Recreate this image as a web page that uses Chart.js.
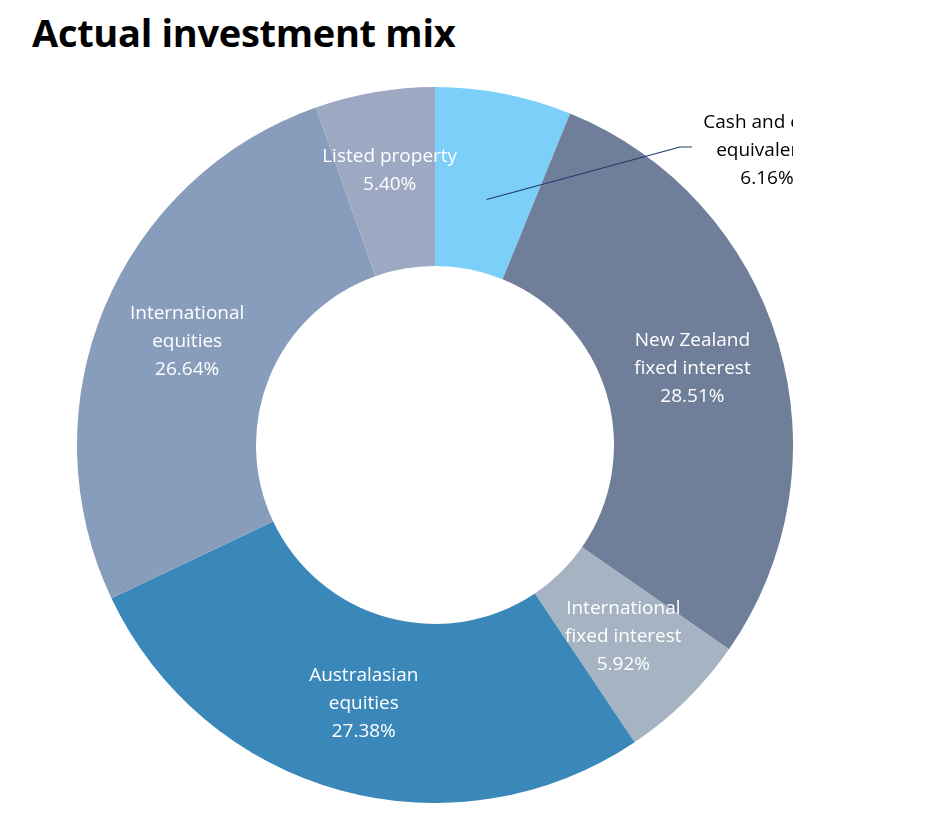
<!DOCTYPE html>
<html>
<head>
<meta charset="utf-8">
<script src="https://cdn.jsdelivr.net/npm/chart.js@4"></script>
<style>
  body { margin:0; background:#fff; width:937px; height:828px; position:relative; font-family:"Open Sans", sans-serif; }
  h1 { position:absolute; left:32px; top:6px; margin:0; font-size:38px; font-weight:700; color:#000; letter-spacing:-0.3px; }
  #wrap { position:absolute; left:77px; top:87px; width:716px; height:716px; }
</style>
</head>
<body>
<h1>Actual investment mix</h1>
<div id="wrap"><canvas id="c"></canvas></div>
<script>
const categories = ["Cash and cash equivalents", "New Zealand fixed interest", "International fixed interest",
  "Australasian equities", "International equities", "Listed property"]
const values = [6.16, 28.51, 5.92, 27.38, 26.64, 5.40]
const labelLines = [
  ["Cash and cash", "equivalents", "6.16%"],
  ["New Zealand", "fixed interest", "28.51%"],
  ["International", "fixed interest", "5.92%"],
  ["Australasian", "equities", "27.38%"],
  ["International", "equities", "26.64%"],
  ["Listed property", "5.40%"]
]
const colors = ["#7BCFF8", "#6F7F99", "#A5B3C2", "#3A87B9", "#889DBC", "#9DA9C3"]

// draw slice labels, cash label sits outside with a leader line
const sliceLabels = {
  id: 'sliceLabels',
  afterDraw(chart) {
    const ctx = chart.ctx
    const arcs = chart.getDatasetMeta(0).data
    ctx.save()
    ctx.font = '19px "Open Sans"'
    ctx.textAlign = 'center'
    ctx.textBaseline = 'middle'
    arcs.forEach((arc, i) => {
      const mid = (arc.startAngle + arc.endAngle) / 2
      const r = (arc.innerRadius + arc.outerRadius) / 2
      let x = arc.x + Math.cos(mid) * r
      let y = arc.y + Math.sin(mid) * r
      const lines = labelLines[i]
      if (i === 0) {
        ctx.strokeStyle = '#1F3A6E'
        ctx.lineWidth = 1.2
        ctx.beginPath()
        ctx.moveTo(x, y + 18)
        ctx.lineTo(arc.x + 245, arc.y - 298)
        ctx.lineTo(arc.x + 257, arc.y - 298)
        ctx.stroke()
        ctx.fillStyle = '#000'
        x = arc.x + 332
        y = arc.y - 294
      } else {
        ctx.fillStyle = '#fff'
        if (i === 5) y -= 10
      }
      const lh = 28
      lines.forEach((t, k) => ctx.fillText(t, x, y + (k - (lines.length - 1) / 2) * lh))
    })
    ctx.restore()
  }
}

new Chart(document.getElementById('c'), {
  type: 'doughnut',
  data: {
    labels: categories,
    datasets: [{
      data: values,
      backgroundColor: colors,
      borderWidth: 0
    }]
  },
  options: {
    responsive: true,
    maintainAspectRatio: false,
    animation: false,
    cutout: '50%',
    layout: { padding: 0 },
    plugins: { legend: { display: false }, tooltip: { enabled: false } }
  },
  plugins: [sliceLabels]
})
</script>
</body>
</html>
